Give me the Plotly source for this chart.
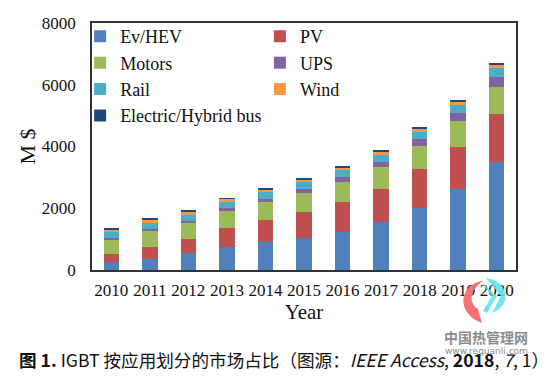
import plotly.graph_objects as go

years = ["2010", "2011", "2012", "2013", "2014", "2015", "2016", "2017", "2018", "2019", "2020"]
ev_hev = [250, 346, 540, 757, 897, 1049, 1232, 1567, 2011, 2616, 3513]
pv = [269, 411, 476, 616, 735, 843, 962, 1049, 1254, 1384, 1546]
motors = [476, 508, 497, 540, 573, 616, 660, 714, 767, 821, 876]
ups = [54, 75, 65, 87, 98, 119, 162, 172, 206, 260, 302]
rail = [173, 195, 206, 216, 216, 216, 216, 238, 237, 259, 292]
wind = [97, 86, 97, 87, 86, 87, 87, 87, 98, 108, 130]
bus = [32, 33, 32, 21, 43, 43, 43, 43, 54, 54, 43]

series = [
    ("Ev/HEV", ev_hev, "#4F81BD", "legend"),
    ("PV", pv, "#C0504D", "legend2"),
    ("Motors", motors, "#9BBB59", "legend"),
    ("UPS", ups, "#8064A2", "legend2"),
    ("Rail", rail, "#4BACC6", "legend"),
    ("Wind", wind, "#F79646", "legend2"),
    ("Electric/Hybrid bus", bus, "#1F497D", "legend"),
]

serif = "Liberation Serif, Times New Roman, serif"
cjk = "Noto Sans CJK SC, Noto Sans, sans-serif"

fig = go.Figure()
for name, vals, col, lg in series:
    fig.add_trace(go.Bar(
        x=years, y=vals, name=name, marker=dict(color=col, line=dict(width=0)),
        legend=lg,
    ))

leg_common = dict(
    font=dict(family=serif, size=18, color="#111111"),
    bgcolor="rgba(0,0,0,0)", borderwidth=0,
    orientation="v", xanchor="left", yanchor="top", itemwidth=30,
    traceorder="normal",
)

# page body has an 8px margin, so the figure is sized to fill the rest of the window
fig.update_layout(
    width=547, height=381,
    margin=dict(l=84, r=39, t=15, b=119, autoexpand=False),
    paper_bgcolor="white", plot_bgcolor="white",
    barmode="stack", bargap=0.6,
    font=dict(family=serif, size=17, color="#111111"),
    showlegend=True,
    legend=dict(x=-0.028, y=1.02, **leg_common),
    legend2=dict(x=0.396, y=1.02, **leg_common),
    xaxis=dict(
        showline=True, linecolor="#333333", linewidth=1.5, mirror=True,
        showgrid=False, ticks="", tickfont=dict(family=serif, size=17, color="#111111"),
        ticklabelstandoff=4,
        title=dict(text="Year", font=dict(family=serif, size=21, color="#111111"), standoff=0),
    ),
    yaxis=dict(
        range=[0, 8000], tickvals=[0, 2000, 4000, 6000, 8000],
        showline=True, linecolor="#333333", linewidth=1.5, mirror=True,
        showgrid=False, zeroline=False, ticks="",
        tickfont=dict(family=serif, size=17, color="#111111"),
        ticklabelstandoff=11,
        title=dict(text="M $", font=dict(family=serif, size=22, color="#111111"), standoff=0),
    ),
)

# caption
fig.add_annotation(
    xref="paper", yref="paper", x=-0.177, y=-0.364, xanchor="left", yanchor="middle",
    text="<b>图 1.</b> IGBT 按应用划分的市场占比（图源：<i>IEEE Access</i>, <b>2018</b>, <i>7</i>, 1）",
    showarrow=False, font=dict(family=cjk, size=17.6, color="#111111"), align="left",
)

# watermark logo (approximate) and text, positioned in screen pixels
def px(x):
    return (x - 92) / 424

def py(y):
    return (270 - y) / 247

red_path = "M {},{} C {},{} {},{} {},{} L {},{} C {},{} {},{} {},{} Z".format(
    px(483), py(281), px(458), py(284), px(456), py(314), px(482), py(323),
    px(478), py(309), px(468), py(303), px(470), py(290), px(483), py(281))
cyan_path1 = "M {},{} C {},{} {},{} {},{} L {},{} L {},{} Z".format(
    px(486), py(278), px(510), py(281), px(512), py(306), px(492), py(313),
    px(501), py(296), px(486), py(278))
cyan_path2 = "M {},{} L {},{} L {},{} L {},{} L {},{} Z".format(
    px(480), py(281), px(492), py(296), px(483), py(311), px(487), py(313), px(497), py(296))
fig.add_shape(type="path", xref="paper", yref="paper", path=red_path,
              fillcolor="#F46B6E", line=dict(width=0), layer="above", opacity=0.95)
fig.add_shape(type="path", xref="paper", yref="paper", path=cyan_path1,
              fillcolor="#5FE3EA", line=dict(width=0), layer="above", opacity=0.9)
fig.add_shape(type="path", xref="paper", yref="paper", path=cyan_path2,
              fillcolor="#5FE3EA", line=dict(width=0), layer="above", opacity=0.9)

fig.add_annotation(
    xref="paper", yref="paper", x=px(486), y=py(337), xanchor="center", yanchor="middle",
    text="<b>中国热管理网</b>", showarrow=False,
    font=dict(family=cjk, size=14, color="#8c8c8c"),
)
fig.add_annotation(
    xref="paper", yref="paper", x=px(486), y=py(351), xanchor="center", yanchor="middle",
    text="www.reguanli.com", showarrow=False,
    font=dict(family="DejaVu Sans", size=9, color="#8c8c8c"),
)

fig.write_html("out.html")
